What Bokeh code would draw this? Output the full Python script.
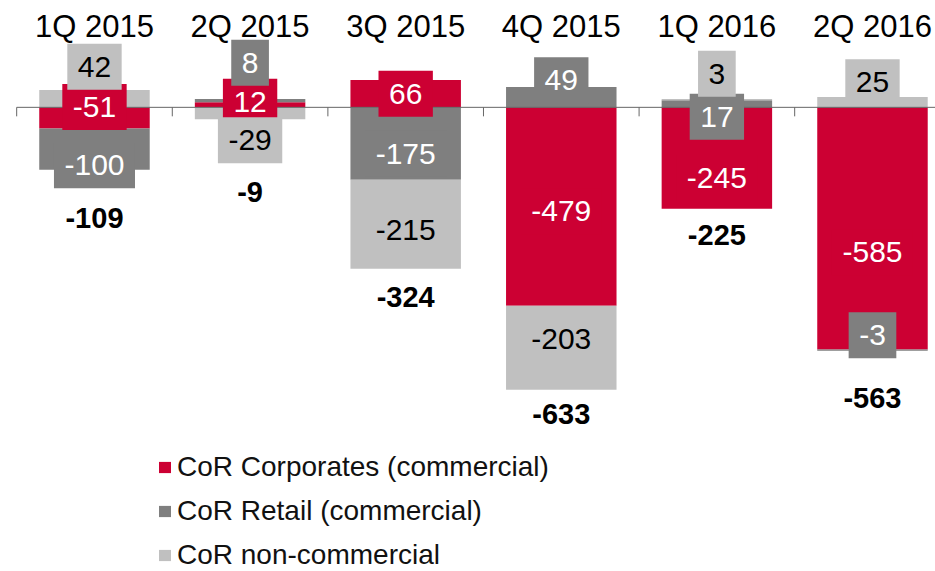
from bokeh.plotting import figure
from bokeh.models import Range1d, ColumnDataSource, Legend, LegendItem
from bokeh.core.properties import value
from bokeh.embed import file_html
from bokeh.resources import INLINE

# ---------------- data ----------------
quarters = ["1Q 2015", "2Q 2015", "3Q 2015", "4Q 2015", "1Q 2016", "2Q 2016"]
corporates = [-51, 12, 66, -479, -245, -585]
retail = [-100, 8, -175, 49, 17, -3]
non_commercial = [42, -29, -215, -203, 3, 25]
series_names = ["CoR Corporates (commercial)", "CoR Retail (commercial)", "CoR non-commercial"]

# ---------------- style / layout ----------------
colors = ["#CC0033", "#7F7F7F", "#C0C0C0"]
text_colors = ["#FFFFFF", "#FFFFFF", "#000000"]
FONT = "Liberation Sans"
W, H = 935, 571
Y0, Y1 = -1121, 258
X0, X1 = -0.604, 5.405
BAR_W = 0.71
k = H / (Y1 - Y0)  # px per data unit

# label nudges in px (positive = downward), one row per series
label_nudge = [
    [-11, -3, 0, 5, 20, 24],
    [16, -38, 10, -17, 13, -15],
    [-32, 27, 6, -9, -26, -20],
]
total_nudge = [21.5, 46, 1.5, -2.5, -0.5, 20.5]

series = [corporates, retail, non_commercial]
xs = list(range(len(quarters)))

p = figure(width=W, height=H, x_range=Range1d(X0, X1), y_range=Range1d(Y0, Y1),
           x_axis_type=None, y_axis_type=None, output_backend="svg",
           toolbar_location=None, min_border=0, outline_line_color=None,
           background_fill_color="white", border_fill_color="white")

# stacking
pos_base = [0.0] * len(xs)
neg_base = [0.0] * len(xs)
stack_bounds = []
for vals in series:
    bots, tops = [], []
    for i, v in enumerate(vals):
        if v >= 0:
            b, t = pos_base[i], pos_base[i] + v
            pos_base[i] = t
        else:
            t, b = neg_base[i], neg_base[i] + v
            neg_base[i] = b
        bots.append(b)
        tops.append(t)
    stack_bounds.append((bots, tops))

renderers = []
for si, vals in enumerate(series):
    bots, tops = stack_bounds[si]
    src = ColumnDataSource(dict(x=xs, bottom=bots, top=tops))
    r = p.vbar(x="x", bottom="bottom", top="top", width=BAR_W, source=src,
               fill_color=colors[si], line_color=None)
    renderers.append(r)

# zero line with ticks between categories
p.segment(x0=[-0.5], y0=[0], x1=[X1], y1=[0], line_color="#666666", line_width=1)
tick_x = [i - 0.5 for i in range(len(xs) + 1)]
p.segment(x0=tick_x, y0=[0] * len(tick_x), x1=tick_x, y1=[-9 / k] * len(tick_x),
          line_color="#666666", line_width=1)


def text_width(s, size=30):
    w = 0
    for ch in s:
        w += 0.333 * size if ch == "-" else 0.556 * size
    return w


# value label boxes + texts
for si, vals in enumerate(series):
    bots, tops = stack_bounds[si]
    ly, lw, lt = [], [], []
    for i, v in enumerate(vals):
        c = (bots[i] + tops[i]) / 2.0
        ly.append(c - label_nudge[si][i] / k)
        t = str(v)
        lt.append(t)
        lw.append(text_width(t) + 21)
    src = ColumnDataSource(dict(x=xs, y=ly, w=lw, t=lt))
    p.rect(x="x", y="y", width="w", height=46, width_units="screen", height_units="screen",
           fill_color=colors[si], line_color=None, source=src)
    p.text(x="x", y="y", text="t", source=src, text_font=value(FONT), text_font_size="30px",
           text_align="center", text_baseline="middle", text_color=text_colors[si])

# totals
totals = [sum(s[i] for s in series) for i in range(len(xs))]
tot_y = [neg_base[i] - (27 + total_nudge[i]) / k for i in range(len(xs))]
p.text(x=xs, y=tot_y, text=[str(t) for t in totals], text_font=value(FONT),
       text_font_size="29px", text_font_style="bold", text_align="center",
       text_baseline="middle", text_color="#000000")

# category labels on top
cat_y = [Y1 - 26 / k] * len(xs)
p.text(x=xs, y=cat_y, text=quarters, text_font=value(FONT), text_font_size="31px",
       text_align="center", text_baseline="middle", text_color="#000000")

legend = Legend(items=[LegendItem(label=n, renderers=[r]) for n, r in zip(series_names, renderers)],
                location=(157, 0), orientation="vertical", glyph_width=15, glyph_height=14,
                label_standoff=5, spacing=12, padding=0, margin=0, border_line_color=None,
                background_fill_alpha=0, label_text_font=FONT, label_text_font_size="28px",
                label_height=30, label_text_color="#111111")
p.add_layout(legend)

open("out.html", "w").write(file_html(p, INLINE))
